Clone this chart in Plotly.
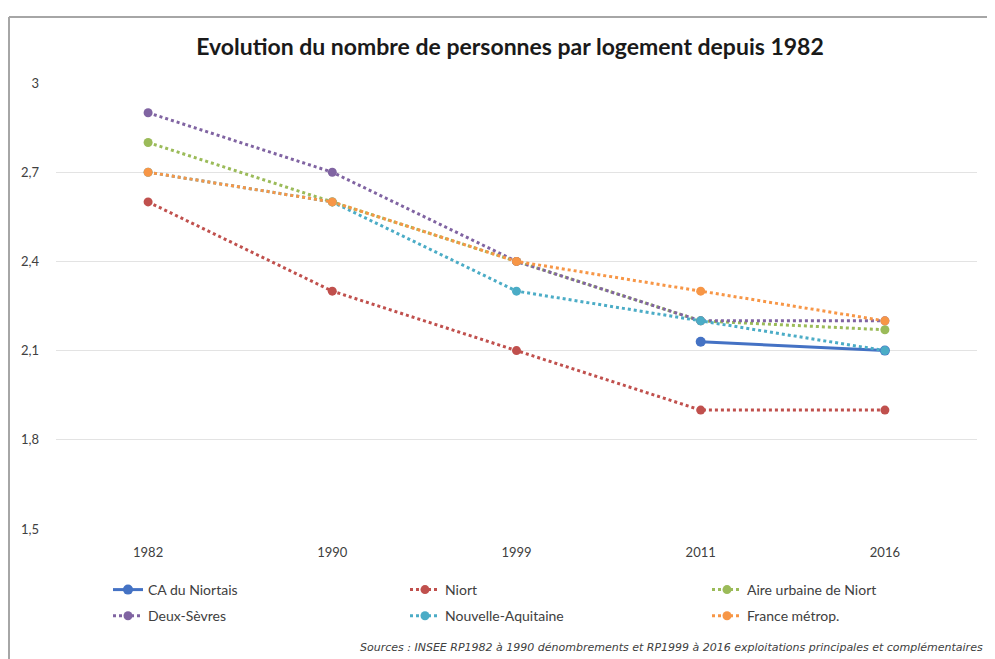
import plotly.graph_objects as go

years = ["1982", "1990", "1999", "2011", "2016"]
ca_niortais = [None, None, None, 2.13, 2.10]
niort = [2.6, 2.3, 2.1, 1.9, 1.9]
aire_urbaine = [2.8, 2.6, 2.4, 2.2, 2.17]
deux_sevres = [2.9, 2.7, 2.4, 2.2, 2.2]
nouvelle_aquitaine = [2.7, 2.6, 2.3, 2.2, 2.1]
france = [2.7, 2.6, 2.4, 2.3, 2.2]
y_ticks = [1.5, 1.8, 2.1, 2.4, 2.7, 3.0]
y_tick_labels = ["1,5", "1,8", "2,1", "2,4", "2,7", "3"]

series = [
    ("CA du Niortais", ca_niortais, "#4472C4", "solid", 10, "legend"),
    ("Niort", niort, "#C0504D", "dot", 9, "legend2"),
    ("Aire urbaine de Niort", aire_urbaine, "#9BBB59", "dot", 9, "legend3"),
    ("Deux-Sèvres", deux_sevres, "#8064A2", "dot", 9, "legend"),
    ("Nouvelle-Aquitaine", nouvelle_aquitaine, "#4BACC6", "dot", 9, "legend2"),
    ("France métrop.", france, "#F79646", "dot", 9, "legend3"),
]

fig = go.Figure()
for name, vals, color, dash, msize, leg in series:
    fig.add_trace(go.Scatter(
        x=years, y=vals, name=name, mode="lines+markers",
        line=dict(color=color, width=3, dash=dash),
        marker=dict(color=color, size=msize),
        legend=leg, legendgroup=name,
    ))

font_family = "Lato, 'Liberation Sans', sans-serif"
PH = 446.0  # plot height px
PW = 921.0  # plot width px
FW, FH = 987, 651

def leg(xpix):
    return dict(orientation="v", x=(xpix - 56) / PW, xanchor="left",
                y=-(574 - 529) / PH, yanchor="top",
                font=dict(size=14, color="#404040"), tracegroupgap=5,
                bgcolor="rgba(0,0,0,0)")

fig.update_layout(
    width=FW, height=FH,
    margin=dict(l=48, r=18, t=75, b=130),
    paper_bgcolor="white", plot_bgcolor="white",
    font=dict(family=font_family, size=13, color="#404040"),
    title=dict(text="<b>Evolution du nombre de personnes par logement depuis 1982</b>",
               x=(510 - 8) / FW, xanchor="center",
               y=1 - (47 - 8) / FH, yanchor="middle",
               font=dict(size=23, color="#1a1a1a", family=font_family)),
    xaxis=dict(type="category", showgrid=False, showline=False, ticks="",
               ticklabelstandoff=14, tickfont=dict(size=13, color="#404040"),
               range=[-0.5, 4.5]),
    yaxis=dict(range=[1.5, 3.0], tickvals=y_ticks, ticktext=y_tick_labels,
               showgrid=True, gridcolor="#E3E3E3", gridwidth=1, zeroline=False,
               showline=False, ticks="", ticklabelstandoff=16,
               tickfont=dict(size=13, color="#404040")),
    legend=leg(108),
    legend2=leg(405),
    legend3=leg(707),
    showlegend=True,
)

fig.add_annotation(
    text="<i>Sources : INSEE RP1982 à 1990 dénombrements et RP1999 à 2016 exploitations principales et complémentaires</i>",
    xref="paper", yref="paper", x=(985 - 56) / PW, y=-(647 - 529) / PH,
    xanchor="right", yanchor="middle",
    showarrow=False, font=dict(size=11, color="#404040", family="'DejaVu Sans', sans-serif"),
)

# outer frame lines (top and left)
fig.add_shape(type="line", xref="paper", yref="paper",
              x0=(9 - 56) / PW, x1=(1000 - 56) / PW,
              y0=1 + (83 - 17) / PH, y1=1 + (83 - 17) / PH,
              line=dict(color="#A6A6A6", width=2))
fig.add_shape(type="line", xref="paper", yref="paper",
              x0=(9 - 56) / PW, x1=(9 - 56) / PW,
              y0=1 + (83 - 17) / PH, y1=-(670 - 529) / PH,
              line=dict(color="#A6A6A6", width=2))

fig.write_html("out.html")
